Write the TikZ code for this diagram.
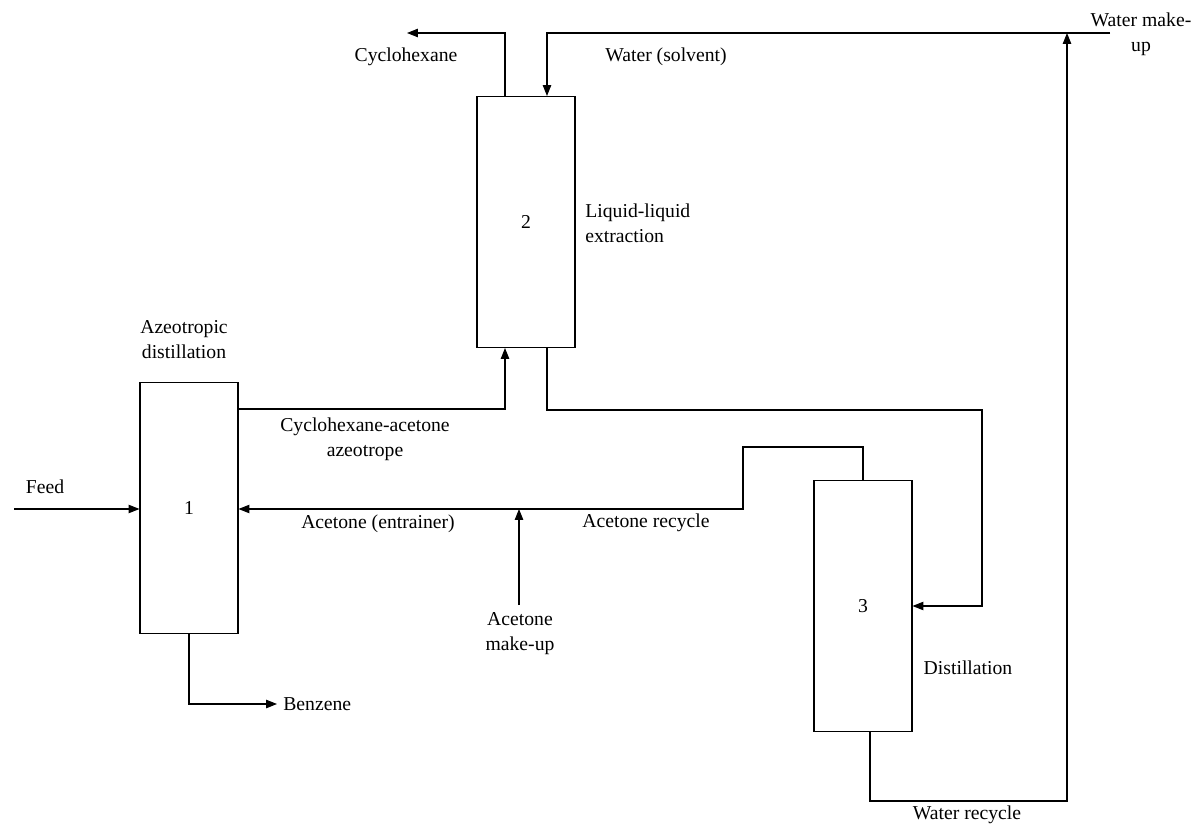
\documentclass[tikz,border=0pt]{standalone}
\usepackage{fontspec}
\setmainfont{Liberation Serif}
\usetikzlibrary{arrows.meta,calc}
\begin{document}
\begin{tikzpicture}[x=0.02cm,y=-0.02cm,
  every node/.style={font=\fontsize{11.2}{14.2}\selectfont},
  unit/.style={draw,line width=0.6pt,minimum width=1.96cm,minimum height=5.02cm,inner sep=0pt},
  flow/.style={draw,line width=0.6pt,-{Triangle[length=6.2pt,width=4.8pt]}},
  lbl/.style={inner sep=0pt,align=center}]
\useasboundingbox (0,0) rectangle (1200,824);

% process units
\node[unit] (b1) at (189,508) {1};
\node[unit] (b2) at (526,222) {2};
\node[unit] (b3) at (863,606) {3};

% free stream ends and corners
\coordinate (feed) at (14,509);
\coordinate (cycOut) at (407,33);
\coordinate (wmu) at (1110,33);
\coordinate (wrc) at (1067,801);
\coordinate (wjoin) at (1067,33);
\coordinate (r1) at (982,410);
\coordinate (ar1) at (743,447);
\coordinate (amu) at (519,605);
\coordinate (bz) at (277,704);

% streams
\draw[flow] (feed) -- (feed -| b1.west);
\draw[flow] ([xshift=-0.42cm]b2.north) |- (cycOut);
\draw[flow] (wmu) -| ([xshift=0.42cm]b2.north);
\draw[flow] ([xshift=0.14cm]b3.south) |- (wrc) -- (wjoin);
\draw[flow] ([yshift=-0.54cm]b1.north east) -| ([xshift=-0.42cm]b2.south);
\draw[flow] ([xshift=0.42cm]b2.south) |- (r1) |- (b3.east);
\draw[flow] (b3.north) |- (ar1) |- (feed -| b1.east);
\draw[flow] (amu) -- (amu |- feed);
\draw[flow] (b1.south) |- (bz);

% labels
\node[lbl] (tCyc) at (406,57) {Cyclohexane};
\node[lbl] (tWat) at (666,57) {Water (solvent)};
\node[lbl] (tWmu) at (1141,34) {Water make-\\up};
\node[lbl,align=left,anchor=west] (tLle) at (585,223) {Liquid-liquid\\extraction};
\node[lbl] (tAzd) at (184,340) {Azeotropic\\distillation};
\node[lbl] (tAze) at (365,439) {Cyclohexane-acetone\\azeotrope};
\node[lbl] (tFeed) at (45,487) {Feed};
\node[lbl] (tEnt) at (378,524) {Acetone (entrainer)};
\node[lbl] (tArc) at (646,523) {Acetone recycle};
\node[lbl] (tAmu) at (520,634) {Acetone\\make-up};
\node[lbl] (tDis) at (968,668) {Distillation};
\node[lbl,anchor=west] (tBz) at (283,704) {Benzene};
\node[lbl] (tWrc) at (967,815) {Water recycle};
\end{tikzpicture}
\end{document}
